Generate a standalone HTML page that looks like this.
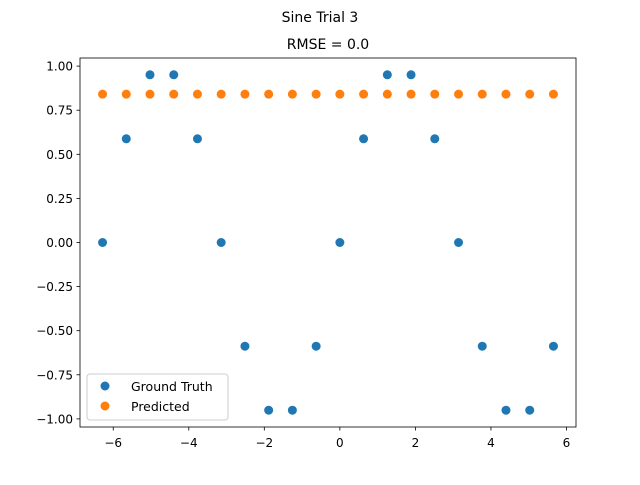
<!DOCTYPE html>
<html><head><meta charset="utf-8"><style>
body{margin:0;background:#fff}
svg text{font-family:"DejaVu Sans","Liberation Sans",sans-serif;fill:#000}
</style></head><body>
<svg id="chart" width="640" height="480" xmlns="http://www.w3.org/2000/svg">
<text x="320" y="22" font-size="14" text-anchor="middle">Sine Trial 3</text>
<text x="328" y="49" font-size="14" text-anchor="middle">RMSE = 0.0</text>
<g id="marks"></g>
<rect x="80" y="58" width="496" height="369" fill="none" stroke="#000" stroke-width="0.8"/>
<g id="axes"></g>
<g>
<rect x="87" y="374" width="141" height="46" rx="3" fill="#fff" fill-opacity="0.8" stroke="#ccc"/>
<circle cx="105" cy="386" r="4.5" fill="#1f77b4"/>
<text x="131" y="391" font-size="12.5">Ground Truth</text>
<circle cx="105" cy="406" r="4.5" fill="#ff7f0e"/>
<text x="131" y="411" font-size="12.5">Predicted</text>
</g>
</svg>
<script>
const xValues=[-6.283,-5.655,-5.027,-4.398,-3.770,-3.142,-2.513,-1.885,-1.257,-0.628,0,0.628,1.257,1.885,2.513,3.142,3.770,4.398,5.027,5.655];
const groundTruth=[0,0.588,0.951,0.951,0.588,0,-0.588,-0.951,-0.951,-0.588,0,0.588,0.951,0.951,0.588,0,-0.588,-0.951,-0.951,-0.588];
const predicted=[0.841,0.841,0.841,0.841,0.841,0.841,0.841,0.841,0.841,0.841,0.841,0.841,0.841,0.841,0.841,0.841,0.841,0.841,0.841,0.841];
const xTicks=[-6,-4,-2,0,2,4,6];
const yTicks=[-1.00,-0.75,-0.50,-0.25,0.00,0.25,0.50,0.75,1.00];
const L=80,R=576,T=58,B=427;
const xmin=-6.880,xmax=6.252,ymin=-1.046,ymax=1.046;
const sx=v=>L+(v-xmin)/(xmax-xmin)*(R-L);
const sy=v=>B-(v-ymin)/(ymax-ymin)*(B-T);
const NS="http://www.w3.org/2000/svg";
const marks=document.getElementById('marks'),axes=document.getElementById('axes');
function mk(t,a,p){const e=document.createElementNS(NS,t);for(const k in a)e.setAttribute(k,a[k]);p.appendChild(e);return e;}
xValues.forEach((x,i)=>{
 const c=mk('circle',{cx:sx(x),cy:sy(groundTruth[i]),r:4.5,fill:'#1f77b4'},marks);
 
 
});
xValues.forEach((x,i)=>{
 const c=mk('circle',{cx:sx(x),cy:sy(predicted[i]),r:4.5,fill:'#ff7f0e'},marks);
 
 
});
xTicks.forEach(v=>{
 const x=sx(v);
 const l=mk('line',{x1:x,x2:x,y1:B,y2:B+3.5,stroke:'#000','stroke-width':0.8},axes);
 
 
 const t=mk('text',{x:x,y:B+20,'font-size':12,'text-anchor':'middle'},axes);
 t.textContent=v<0?'\u2212'+(-v):String(v);
 
 
});
yTicks.forEach(v=>{
 const y=sy(v);
 const l=mk('line',{x1:L-3.5,x2:L,y1:y,y2:y,stroke:'#000','stroke-width':0.8},axes);
 
 
 const t=mk('text',{x:L-7,y:y+4.5,'font-size':12,'text-anchor':'end'},axes);
 t.textContent=(v<0?'\u2212':'')+Math.abs(v).toFixed(2);
 
 
});
</script>
</body></html>
